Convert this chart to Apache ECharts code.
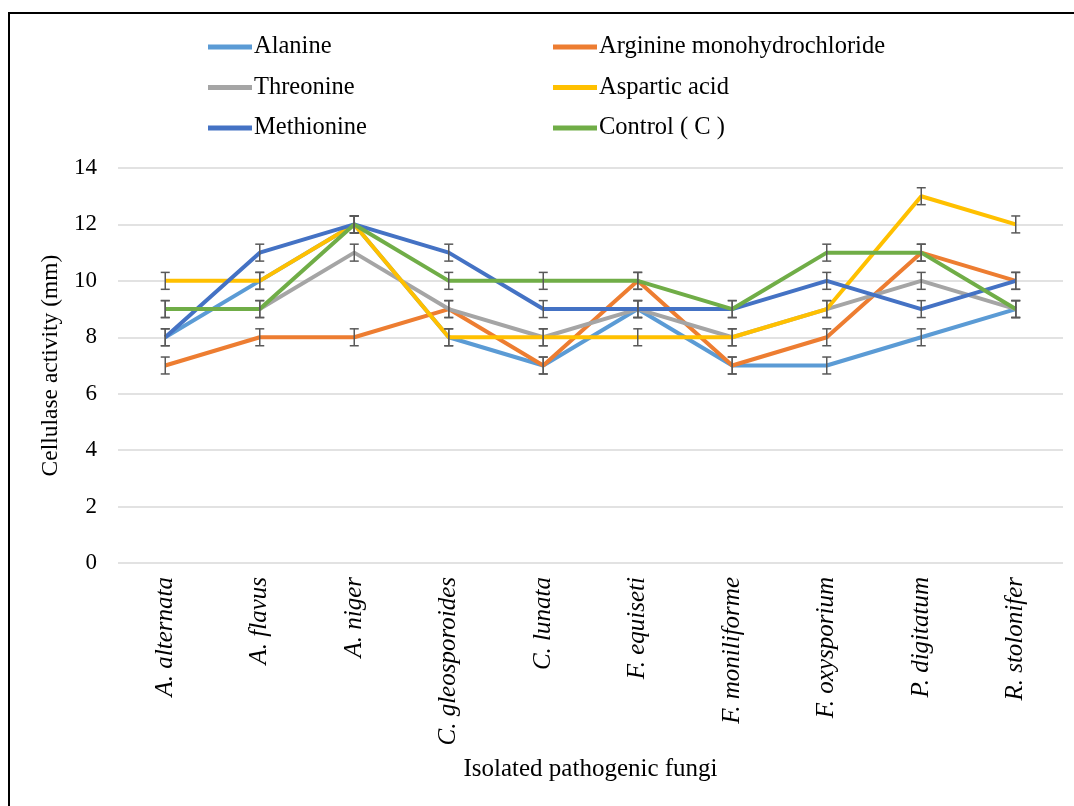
<!DOCTYPE html>
<html lang="en">
<head>
    <meta charset="UTF-8">
    <title>Cellulase activity</title>
    <style>
        body{ margin:0; background:#fff; }
        #frame{
            position:absolute; left:8px; top:12px;
            width:1080px; height:820px;
            border-left:2.5px solid #000; border-top:2.5px solid #000;
        }
        #main{ position:absolute; left:0; top:0; width:1074px; height:806px; }
    </style>
</head>
<body>
<div id="frame"></div>
<div id="main"></div>
<script src="https://cdn.jsdelivr.net/npm/echarts@6/dist/echarts.min.js"></script>
<script>
// categories (isolated fungi)
const fungi=['A. alternata','A. flavus','A. niger','C. gleosporoides','C. lunata',
    'F. equiseti','F. moniliforme','F. oxysporium','P. digitatum','R. stolonifer'];

// cellulase activity (mm) for each amino acid
const alanine   =[8,10,12,8,7,9,7,7,8,9];
const arginine  =[7,8,8,9,7,10,7,8,11,10];
const threonine =[9,9,11,9,8,9,8,9,10,9];
const aspartic  =[10,10,12,8,8,8,8,9,13,12];
const methionine=[8,11,12,11,9,9,9,10,9,10];
const control   =[9,9,12,10,10,10,9,11,11,9];

// error bar half-size
const err=0.3;

// y axis ticks
const yTicks=[0,2,4,6,8,10,12,14];

const names=['Alanine','Arginine monohydrochloride','Threonine','Aspartic acid','Methionine','Control ( C )'];
const values=[alanine,arginine,threonine,aspartic,methionine,control];
const colors=['#5B9BD5','#ED7D31','#A5A5A5','#FFC000','#4472C4','#70AD47'];

const font='"Liberation Serif", "Times New Roman", serif';

const myChart=echarts.init(document.getElementById('main'));

// points for the error bars
const errData=[];
values.forEach(arr=>arr.forEach((v,i)=>errData.push([i,v])));

const lineSeries=names.map((n,k)=>({
    name:n,
    type:'line',
    data:values[k],
    symbol:'none',
    lineStyle:{width:4,color:colors[k]},
    itemStyle:{color:colors[k]},
    z:2+k*0.01
}));

const legendBase={
    orient:'vertical',
    top:34,
    padding:0,
    icon:'rect',
    itemWidth:44,
    itemHeight:5,
    itemGap:14.5,
    textStyle:{fontFamily:font,fontSize:24.5,color:'#000',lineHeight:26,padding:[0,0,0,-3]}
};

const option={
    animation:false,
    legend:[
        Object.assign({left:208,data:['Alanine','Threonine','Methionine']},legendBase),
        Object.assign({left:553,data:['Arginine monohydrochloride','Aspartic acid','Control ( C )']},legendBase)
    ],
    grid:{left:118,right:11,top:168,bottom:243},
    xAxis:{
        type:'category',
        data:fungi,
        axisLine:{show:false},
        axisTick:{show:false},
        axisLabel:{
            rotate:90,margin:14,interval:0,
            fontFamily:font,fontSize:25,fontStyle:'italic',color:'#000'
        },
        name:'Isolated pathogenic fungi',
        nameLocation:'middle',
        nameGap:194,
        nameTextStyle:{fontFamily:font,fontSize:25,color:'#000'}
    },
    yAxis:{
        type:'value',
        min:yTicks[0],
        max:yTicks[yTicks.length-1],
        interval:2,
        axisLine:{show:false},
        axisTick:{show:false},
        axisLabel:{margin:21,fontFamily:font,fontSize:23,color:'#000'},
        splitLine:{lineStyle:{color:'#d9d9d9',width:1.5}},
        name:'Cellulase activity (mm)',
        nameLocation:'middle',
        nameGap:54,
        nameTextStyle:{fontFamily:font,fontSize:23.5,color:'#000'}
    },
    series:lineSeries.concat([{
        type:'custom',
        name:'err',
        data:errData,
        z:5,
        silent:true,
        renderItem:function(params,api){
            const x=api.value(0), v=api.value(1);
            const hi=api.coord([x,v+err]);
            const lo=api.coord([x,v-err]);
            const c=4.5;
            const st={stroke:'#595959',lineWidth:1.5};
            return {type:'group',children:[
                {type:'line',shape:{x1:hi[0],y1:hi[1],x2:lo[0],y2:lo[1]},style:st},
                {type:'line',shape:{x1:hi[0]-c,y1:hi[1],x2:hi[0]+c,y2:hi[1]},style:st},
                {type:'line',shape:{x1:lo[0]-c,y1:lo[1],x2:lo[0]+c,y2:lo[1]},style:st}
            ]};
        }
    }])
};

myChart.setOption(option);
</script>
</body>
</html>
